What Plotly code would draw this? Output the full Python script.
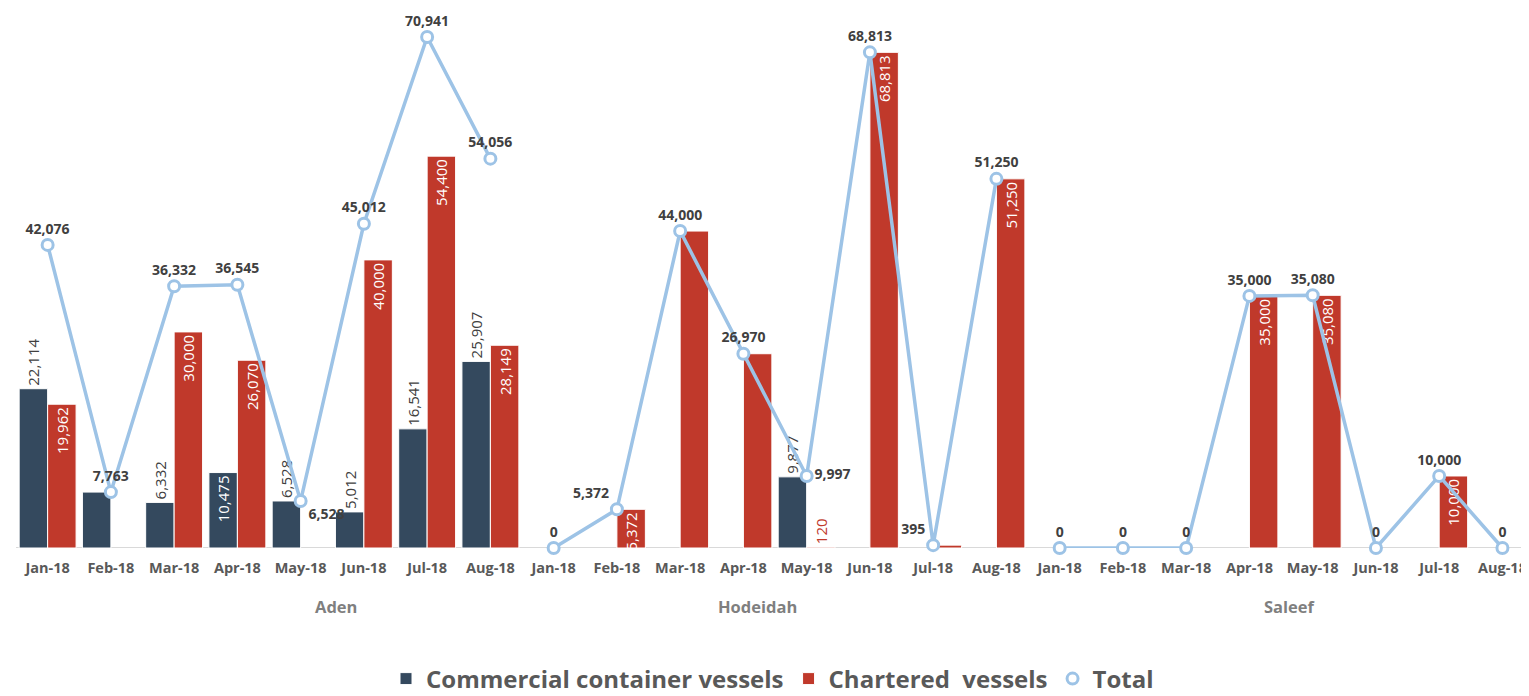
import plotly.graph_objects as go

ports = ["Aden", "Hodeidah", "Saleef"]
months = ["Jan-18", "Feb-18", "Mar-18", "Apr-18", "May-18", "Jun-18", "Jul-18", "Aug-18"]

commercial = {
    "Aden": [22114, 7763, 6332, 10475, 6528, 5012, 16541, 25907],
    "Hodeidah": [None, None, None, None, 9877, None, None, None],
    "Saleef": [None, None, None, None, None, None, None, None],
}
chartered = {
    "Aden": [19962, None, 30000, 26070, None, 40000, 54400, 28149],
    "Hodeidah": [None, 5372, 44000, 26970, 120, 68813, 395, 51250],
    "Saleef": [None, None, None, 35000, 35080, None, 10000, None],
}
total = {
    "Aden": [42076, 7763, 36332, 36545, 6528, 45012, 70941, 54056],
    "Hodeidah": [0, 5372, 44000, 26970, 9997, 68813, 395, 51250],
    "Saleef": [0, 0, 0, 35000, 35080, 0, 10000, 0],
}

# label placement (style)
com_pos = {
    "Aden": ["outside", "none", "outside", "inside", "outside", "outside", "outside", "outside"],
    "Hodeidah": ["none", "none", "none", "none", "outside", "none", "none", "none"],
    "Saleef": ["none"] * 8,
}
cha_pos = {
    "Aden": ["inside", "none", "inside", "inside", "none", "inside", "inside", "inside"],
    "Hodeidah": ["none", "inside", "none", "none", "outside", "inside", "none", "inside"],
    "Saleef": ["none", "none", "none", "inside", "inside", "none", "inside", "none"],
}
tot_pos = {
    "Aden": ["top center", "top center", "top center", "top center", "bottom right",
             "top center", "top center", "top center"],
    "Hodeidah": ["top center", "top left", "top center", "top center", "middle right",
                 "top center", "top left", "top center"],
    "Saleef": ["top center"] * 8,
}
# port label offsets from group centre, in category units (style)
port_label_shift = [1.06, -0.27, 0.14]

C_COM = "#34495e"
C_CHA = "#c0392b"
C_TOT = "#9dc3e6"
FONT = "Open Sans"

xs, xlabels = [], []
com_y, cha_y, com_p, cha_p, tot_p, tot_y = [], [], [], [], [], []
for pi, p in enumerate(ports):
    for mi, m in enumerate(months):
        xs.append(pi * len(months) + mi)
        xlabels.append(m)
    com_y += commercial[p]
    cha_y += chartered[p]
    com_p += com_pos[p]
    cha_p += cha_pos[p]
    tot_p += tot_pos[p]
    tot_y += total[p]

def fmt(v):
    return "" if v is None else f"{v:,}"

fig = go.Figure()
fig.add_trace(go.Bar(
    x=xs, y=com_y, name="Commercial container vessels",
    marker=dict(color=C_COM, line=dict(color="white", width=1)),
    text=[fmt(v) for v in com_y], textposition=com_p, textangle=-90,
    constraintext="none",
    insidetextfont=dict(color="white", size=15, family=FONT),
    outsidetextfont=dict(color="#404040", size=15, family=FONT),
    cliponaxis=False, hoverinfo="skip",
))
fig.add_trace(go.Bar(
    x=xs, y=cha_y, name="Chartered  vessels",
    marker=dict(color=C_CHA, line=dict(color="white", width=1)),
    text=[fmt(v) for v in cha_y], textposition=cha_p, textangle=-90,
    constraintext="none",
    insidetextfont=dict(color="white", size=15, family=FONT),
    outsidetextfont=dict(color=C_CHA, size=15, family=FONT),
    cliponaxis=False, hoverinfo="skip",
))
for pi, p in enumerate(ports):
    fig.add_trace(go.Scatter(
        x=xs[pi * 8:(pi + 1) * 8], y=total[p], mode="lines",
        line=dict(color=C_TOT, width=3.5), showlegend=False,
        cliponaxis=False, hoverinfo="skip",
    ))
fig.add_trace(go.Scatter(
    x=xs, y=tot_y, mode="markers+text", name="Total",
    marker=dict(color="white", size=11, line=dict(color=C_TOT, width=3)),
    text=[fmt(v) for v in tot_y], textposition=tot_p,
    textfont=dict(color="#404040", size=14, family=FONT, weight="bold"),
    cliponaxis=False, hoverinfo="skip",
))

for pi, p in enumerate(ports):
    fig.add_annotation(
        x=pi * 8 + 3.5 + port_label_shift[pi], y=-0.108, xref="x", yref="paper",
        text=f"<b>{p}</b>",
        showarrow=False, font=dict(size=16.5, color="#7f7f7f", family=FONT),
        yanchor="middle",
    )

fig.update_layout(
    width=1521, height=720,
    margin=dict(l=8, r=0, t=2, b=180),
    plot_bgcolor="white", paper_bgcolor="white",
    barmode="group", bargap=0.1, bargroupgap=0.0,
    font=dict(family=FONT, color="#595959"),
    showlegend=True,
    legend=dict(orientation="h", x=0.5, xanchor="center", y=-0.2435, yanchor="middle",
                font=dict(size=24, color="#595959", family=FONT, weight="bold"),
                itemwidth=30, tracegroupgap=0),
    xaxis=dict(
        tickmode="array", tickvals=xs, ticktext=[f"<b>{t}</b>" for t in xlabels],
        tickfont=dict(size=14.5, color="#595959", family=FONT),
        range=[-0.5, 23.42], showgrid=False, zeroline=False,
        showline=False, ticks="", automargin=False, ticklabelstandoff=9,
    ),
    yaxis=dict(range=[0, 74690], visible=False, showgrid=False, zeroline=False),
)
fig.add_shape(type="line", xref="paper", yref="y", x0=0, x1=1, y0=0, y1=0,
              line=dict(color="#d9d9d9", width=2), layer="below")

fig.write_html("out.html")
